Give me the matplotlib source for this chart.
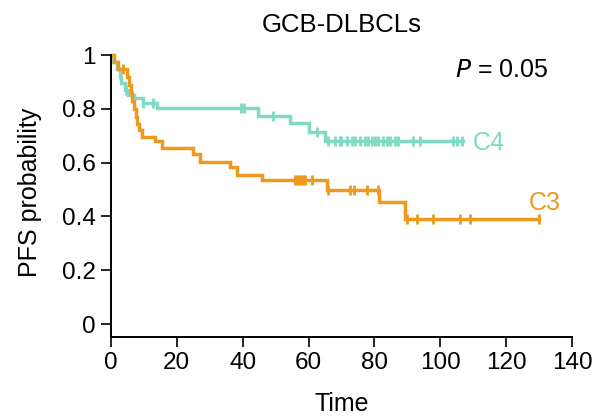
import numpy as np
import matplotlib.pyplot as plt

plt.rcParams['font.family'] = ['Liberation Sans', 'DejaVu Sans']

# Kaplan-Meier steps: event times and survival after each event
c4_times = [0.7, 1.7, 2.7, 3.2, 4.3, 5.3, 7.0, 9.8, 13.9, 44.7, 54.4, 60.0, 65.0, 107.0]
c4_surv = [0.975, 0.95, 0.92, 0.896, 0.871, 0.852, 0.84, 0.822, 0.803, 0.773, 0.746, 0.715, 0.68, 0.68]
c4_censor = [4.5, 9.8, 12.8, 39.6, 40.4, 49.1, 62.5, 66.0, 68.0, 69.5, 70.0, 71.6, 73.1,
             74.1, 75.6, 77.1, 78.1, 79.2, 80.2, 81.2, 82.7, 83.7, 84.7, 86.2, 87.2,
             91.8, 93.8, 104.0, 105.0, 106.5]

c3_times = [1.0, 2.0, 5.0, 5.5, 6.0, 6.5, 7.0, 7.5, 8.0, 8.5, 9.4, 13.4, 15.4, 25.0, 27.0,
            36.1, 38.2, 45.8, 65.5, 81.5, 89.3, 130.0]
c3_surv = [0.975, 0.95, 0.92, 0.89, 0.86, 0.83, 0.80, 0.77, 0.745, 0.72, 0.695, 0.68, 0.653,
           0.634, 0.603, 0.585, 0.556, 0.535, 0.50, 0.455, 0.39, 0.39]
c3_censor = [3.6, 56.0, 56.6, 57.2, 57.8, 58.4, 59.0, 61.0, 66.0, 72.6, 73.8, 77.8, 81.0,
             90.0, 92.8, 97.9, 106.0, 109.0, 130.0]

teal = '#80D9C5'
orange = '#EE9A1E'


def km_step(times, surv):
    t = np.concatenate([[0], times])
    s = np.concatenate([[1.0], surv])
    return t, s


def surv_at(times, surv, x):
    t, s = km_step(times, surv)
    idx = np.searchsorted(t, x, side='right') - 1
    return s[idx]


fig = plt.figure(figsize=(6.03, 4.16), dpi=100)
ax = fig.add_axes([0.184, 0.19, 0.7645, 0.697])

for times, surv, cens, col in [(c4_times, c4_surv, c4_censor, teal),
                               (c3_times, c3_surv, c3_censor, orange)]:
    t, s = km_step(times, surv)
    ax.step(t, s, where='post', color=col, lw=2.5, solid_joinstyle='miter')
    ax.plot(cens, surv_at(times, surv, np.array(cens)), ls='none', marker='|',
            ms=7, mew=2, color=col)

ax.set_xlim(0, 140)
ax.set_ylim(-0.048, 1.03)
ax.spines['top'].set_visible(False)
ax.spines['right'].set_visible(False)
ax.spines['left'].set_bounds(-0.048, 1)
ax.spines['left'].set_linewidth(1.4)
ax.spines['bottom'].set_linewidth(1.4)

ax.set_xticks(range(0, 141, 20))
ax.set_yticks([0, 0.2, 0.4, 0.6, 0.8, 1])
ax.set_yticklabels(['0', '0.2', '0.4', '0.6', '0.8', '1'])
ax.tick_params(axis='both', labelsize=17.5, width=1.2, length=7, pad=4, direction='out')

ax.set_xlabel('Time', fontsize=18, labelpad=13)
ax.set_ylabel('PFS probability', fontsize=18, labelpad=14)
ax.set_title('GCB-DLBCLs', fontsize=18.5, pad=11)

ax.text(132.7, 0.944, r'$\it{P}$ = 0.05', fontsize=18, ha='right', va='center')
ax.text(110.0, 0.672, 'C4', fontsize=18, color=teal, ha='left', va='center')
ax.text(127.0, 0.45, 'C3', fontsize=18, color=orange, ha='left', va='center')

fig.savefig('out.png', dpi=100)
